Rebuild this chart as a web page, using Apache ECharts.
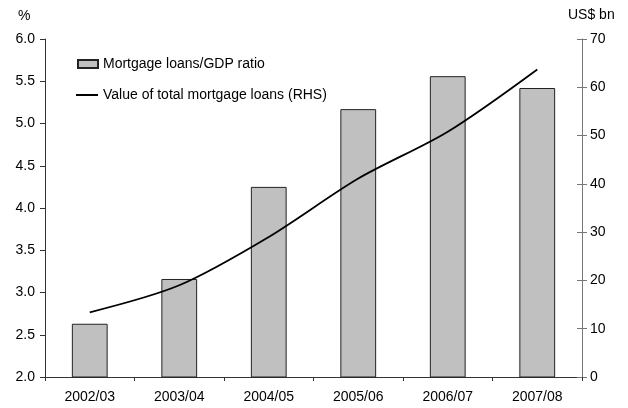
<!DOCTYPE html>
<html>
<head>
<meta charset="utf-8">
<script src="https://cdn.jsdelivr.net/npm/echarts@6/dist/echarts.min.js"></script>
<style>html,body{margin:0;padding:0;background:#fff}#c{width:628px;height:408px}</style>
</head>
<body>
<div id="c"></div>
<script>
var categories = ['2002/03', '2003/04', '2004/05', '2005/06', '2006/07', '2007/08'];
var ratioValues = [2.63, 3.16, 4.25, 5.17, 5.56, 5.42];
var loanValues = [13.4, 19.0, 29.0, 41.1, 50.8, 63.7];
var leftTicks = {min: 2, max: 6, interval: 0.5};
var rightTicks = {min: 0, max: 70, interval: 10};
var barName = 'Mortgage loans/GDP ratio';
var lineName = 'Value of total mortgage loans (RHS)';

var FONT = 'Liberation Sans, Arial, sans-serif';
var chart = echarts.init(document.getElementById('c'), null, {renderer: 'canvas'});
var axisColor = '#333';
chart.setOption({
  animation: false,
  textStyle: {fontFamily: FONT, color: '#000'},
  grid: {left: 45, right: 46, top: 39, bottom: 31},
  graphic: [
    {type: 'text', left: 18, top: 9, style: {text: '%', font: '14px ' + FONT, fill: '#000'}},
    {type: 'text', left: 568, top: 8, style: {text: 'US$ bn', font: '14px ' + FONT, fill: '#000'}}
  ],
  legend: [
    {data: [{name: barName, icon: 'rect'}], left: 77, top: 57, padding: 0, itemWidth: 20, itemHeight: 8, itemGap: 5,
     textStyle: {fontFamily: FONT, fontSize: 14, color: '#000'}, selectedMode: false},
    {data: [{name: lineName, icon: 'rect', itemStyle: {color: '#000', borderWidth: 0}}], left: 76, top: 88, padding: 0,
     itemWidth: 22, itemHeight: 2, itemGap: 5,
     textStyle: {fontFamily: FONT, fontSize: 14, color: '#000'}, selectedMode: false}
  ],
  xAxis: {
    type: 'category', data: categories, boundaryGap: true,
    axisLine: {lineStyle: {color: axisColor, width: 1}},
    axisTick: {show: true, length: 4, lineStyle: {color: axisColor}},
    axisLabel: {fontFamily: FONT, fontSize: 14, color: '#000', margin: 13},
    splitLine: {show: false}
  },
  yAxis: [
    {type: 'value', position: 'left', min: leftTicks.min, max: leftTicks.max, interval: leftTicks.interval,
     axisLine: {show: true, lineStyle: {color: axisColor}},
     axisTick: {show: true, length: 5, lineStyle: {color: axisColor}},
     axisLabel: {fontFamily: FONT, fontSize: 14, color: '#000', margin: 10, formatter: function (v) { return v.toFixed(1); }},
     splitLine: {show: false}},
    {type: 'value', position: 'right', min: rightTicks.min, max: rightTicks.max, interval: rightTicks.interval,
     axisLine: {show: true, lineStyle: {color: '#777'}},
     axisTick: {show: true, length: 5, lineStyle: {color: '#777'}},
     axisLabel: {fontFamily: FONT, fontSize: 14, color: '#000', margin: 8},
     splitLine: {show: false}},
    {type: 'value', position: 'right', min: rightTicks.min, max: rightTicks.max, interval: rightTicks.interval,
     axisLine: {show: false},
     axisTick: {show: true, inside: true, length: 5, lineStyle: {color: '#777'}},
     axisLabel: {show: false},
     splitLine: {show: false}}
  ],
  series: [
    {name: barName, type: 'bar', data: ratioValues, barWidth: '40%', yAxisIndex: 0,
     itemStyle: {color: '#c0c0c0', borderColor: '#222', borderWidth: 1}},
    {name: lineName, type: 'line', data: loanValues, yAxisIndex: 1, smooth: 0.3, symbol: 'none',
     lineStyle: {color: '#000', width: 1.8}, itemStyle: {color: '#000'}}
  ]
});
</script>
</body>
</html>
